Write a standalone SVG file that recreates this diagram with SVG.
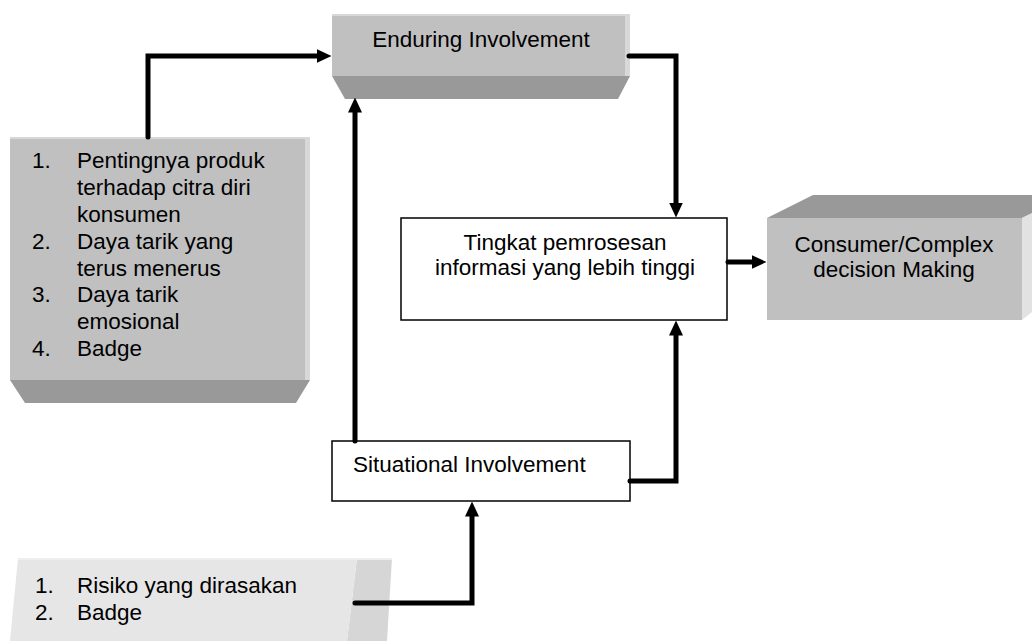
<svg xmlns="http://www.w3.org/2000/svg" width="1032" height="641" viewBox="0 0 1032 641">
<style>
text{font-family:"Liberation Sans",Arial,sans-serif;font-size:22.5px;fill:#000}
.front{fill:#c0c0c0}
.bevel{fill:#999999}
.edge{fill:#d8d8d8}
.plain{fill:#fff;stroke:#000;stroke-width:1.5}
.conn{fill:none;stroke:#000;stroke-width:5;stroke-linecap:round;stroke-linejoin:miter}
.mid{text-anchor:middle}
</style>
<defs>
<marker id="ah" viewBox="0 0 15 14" markerWidth="15" markerHeight="14" markerUnits="userSpaceOnUse" refX="0.5" refY="7" orient="auto">
<path d="M0,0 L15,7 L0,14 z" fill="#000"/>
</marker>
</defs>
<rect width="1032" height="641" fill="#fff"/>

<g id="enduring">
<rect class="front" x="332" y="14" width="298" height="62"/>
<rect class="edge" x="332" y="14" width="298" height="2"/>
<rect class="edge" x="625" y="14" width="5" height="62"/>
<polygon class="bevel" points="332,76 630,76 618,99 345,99"/>
<text class="mid" x="481" y="47">Enduring Involvement</text>
</g>

<g id="factors-enduring">
<rect class="front" x="10" y="137" width="300" height="243"/>
<rect class="edge" x="10" y="137" width="300" height="2"/>
<rect class="edge" x="305" y="137" width="5" height="243"/>
<polygon class="bevel" points="10,380 310,380 296,403 25,403"/>
<text x="32" y="168">1.</text>
<text x="77" y="168">Pentingnya produk</text>
<text x="77" y="195">terhadap citra diri</text>
<text x="77" y="222">konsumen</text>
<text x="32" y="249">2.</text>
<text x="77" y="249">Daya tarik yang</text>
<text x="77" y="276">terus menerus</text>
<text x="32" y="302">3.</text>
<text x="77" y="302">Daya tarik</text>
<text x="77" y="329">emosional</text>
<text x="32" y="356">4.</text>
<text x="77" y="356">Badge</text>
</g>

<g id="tingkat">
<rect class="plain" x="401" y="218" width="326" height="102"/>
<text class="mid" x="565" y="250">Tingkat pemrosesan</text>
<text class="mid" x="565" y="275">informasi yang lebih tinggi</text>
</g>

<g id="consumer">
<polygon class="bevel" points="767,218 813,195 1070,195 1022,218"/>
<polygon points="1022,218 1070,194 1070,282 1022,320" fill="#e2e2e2"/>
<rect class="front" x="767" y="218" width="255" height="102"/>
<text class="mid" x="894" y="252">Consumer/Complex</text>
<text class="mid" x="894" y="277">decision Making</text>
</g>

<g id="situational">
<rect class="plain" x="332" y="441" width="298" height="60"/>
<text x="353" y="472">Situational Involvement</text>
</g>

<g id="factors-situational">
<polygon points="357,558 392,558 387,641 347,641" fill="#d6d6d6"/>
<polygon points="18,558 357,558 347,641 10,641" fill="#e6e6e6"/>
<polygon points="18,558 392,558 392,560 18,560" fill="#eeeeee"/>
<text x="35" y="593">1.</text>
<text x="77" y="593">Risiko yang dirasakan</text>
<text x="35" y="620">2.</text>
<text x="77" y="620">Badge</text>
</g>

<g id="connectors">
<path class="conn" d="M148,137 L148,56 L317,56" marker-end="url(#ah)"/>
<path class="conn" d="M629,56 L676,56 L676,203" marker-end="url(#ah)"/>
<path class="conn" d="M355,441 L355,112" marker-end="url(#ah)"/>
<path class="conn" d="M630,481 L676,481 L676,335" marker-end="url(#ah)"/>
<path class="conn" d="M728,262 L752,262" marker-end="url(#ah)"/>
<path class="conn" d="M355,603 L472,603 L472,516" marker-end="url(#ah)"/>
</g>
</svg>
